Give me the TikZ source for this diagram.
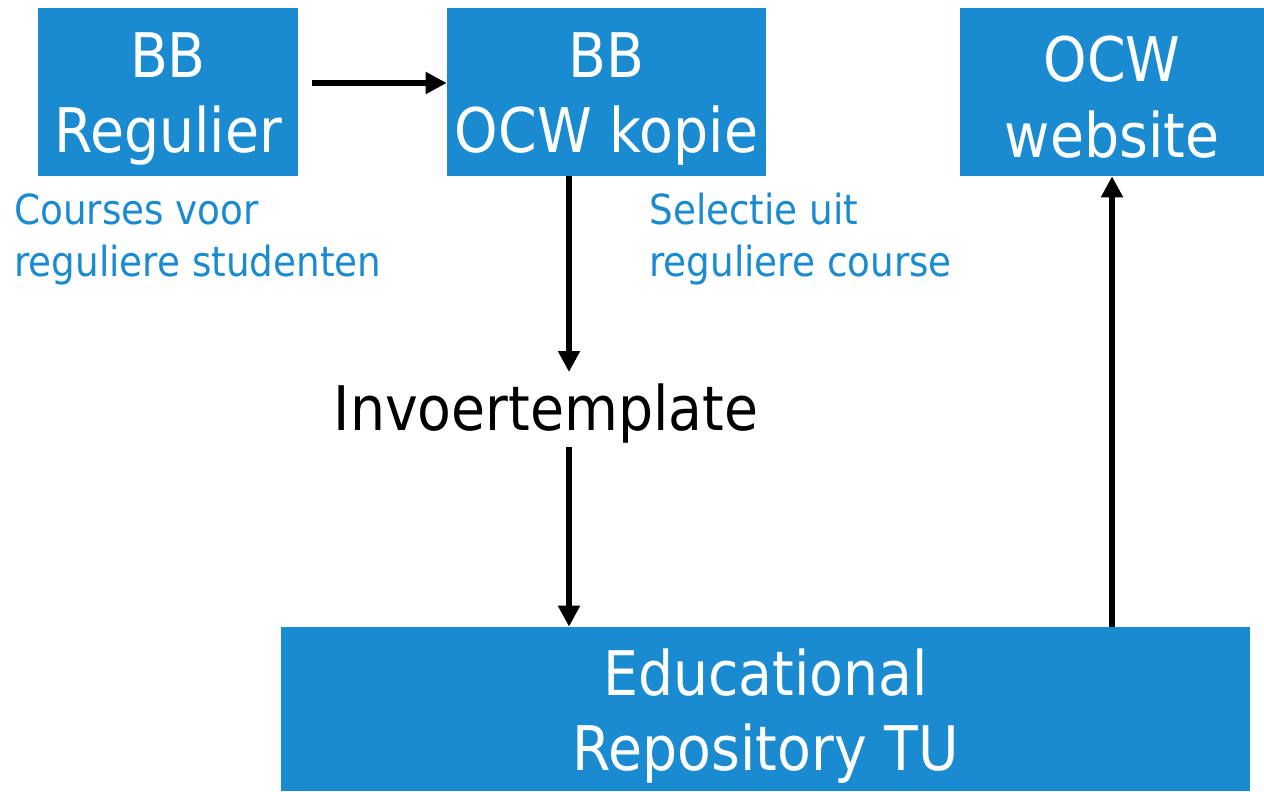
\documentclass[tikz,border=0pt]{standalone}
\usepackage{fontspec}
\setmainfont[FakeStretch=0.9]{DejaVu Sans}
\usetikzlibrary{positioning,arrows.meta}

\definecolor{tublue}{HTML}{1A8BD0}

\tikzset{
  blok/.style={fill=tublue,inner sep=0pt},
  bloktekst/.style={text=white,align=center,inner sep=0pt,
    font=\fontsize{35}{43}\selectfont},
  uitleg/.style={text=tublue,align=left,anchor=north west,inner sep=0pt,
    font=\fontsize{23.6}{29.6}\selectfont},
  pijl/.style={line width=2.9pt,-{Triangle[length=4.2mm,width=4.2mm]}}
}

\begin{document}
\begin{tikzpicture}[x=0.02cm,y=-0.02cm]
        \useasboundingbox (0,0) rectangle (1264,791);

        % blokken
        \node[blok,minimum width=5.2cm,minimum height=3.36cm] (reg) at (168,92) {};
        \node[blok,minimum width=6.38cm,minimum height=3.36cm] (kopie) at (606.5,92) {};
        \node[blok,minimum width=6.08cm,minimum height=3.36cm] (web) at (1112,92) {};
        \node[blok,minimum width=19.38cm,minimum height=3.28cm] (repo) at (765.5,709) {};

        \node[bloktekst] (regtekst) at ([yshift=-0.14cm]reg) {BB\\Regulier};
        \node[bloktekst] (kopietekst) at ([yshift=-0.14cm]kopie) {BB\\OCW kopie};
        \node[bloktekst] (webtekst) at ([yshift=-0.1cm]web) {OCW\\website};
        \node[bloktekst] (repotekst) at ([yshift=-0.14cm]repo) {Educational\\Repository TU};

        \node[font=\fontsize{35}{42}\selectfont,inner sep=0pt] (tmpl) at (546,414) {Invoertemplate};

        % toelichting
        \node[uitleg] (courses) at (14,193) {Courses voor\\reguliere studenten};
        \node[uitleg] (selectie) at (649,193) {Selectie uit\\reguliere course};

        % pijlen
        \coordinate (lijn) at (569,0);
        \coordinate (hoogte) at (0,83);
        \draw[pijl,shorten <=0.28cm] (reg.east |- hoogte) -- (kopie.west |- hoogte);
        \draw[pijl] (kopie.south -| lijn) -- (569,372);
        \draw[pijl] (569,447) -- (repo.north -| lijn);
        \draw[pijl] (repo.north -| web) -- (web.south);
\end{tikzpicture}
\end{document}
